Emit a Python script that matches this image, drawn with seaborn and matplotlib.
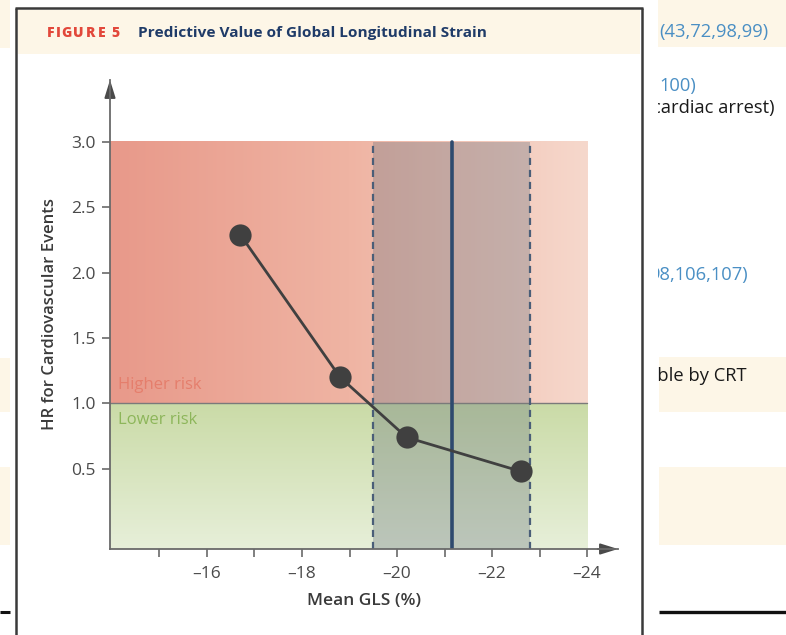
import numpy as np
import pandas as pd
import matplotlib
matplotlib.use("Agg")
import matplotlib.pyplot as plt
from matplotlib.patches import Rectangle
from matplotlib.lines import Line2D
from matplotlib.colors import LinearSegmentedColormap
from matplotlib.transforms import Bbox, TransformedBbox
from matplotlib.textpath import TextPath
from matplotlib.font_manager import FontProperties
import seaborn as sns

# --- data -------------------------------------------------------------
gls_mean = [-16.7, -18.8, -20.2, -22.6]          # mean GLS (%)
hazard_ratio = [2.29, 1.20, 0.74, 0.48]          # HR for cardiovascular events
normal_low, normal_high = -19.5, -22.8           # normal GLS range
normal_mean = -21.15                             # mean normal GLS
x_ticks = [-16, -18, -20, -22, -24]
x_minor = [-15, -17, -19, -21, -23]
y_ticks = [0.5, 1.0, 1.5, 2.0, 2.5, 3.0]
y_labels = ["0.5", "1.0", "1.5", "2.0", "2.5", "3.0"]

sns.set_theme(style="ticks")
plt.rcParams["font.family"] = ["Open Sans", "DejaVu Sans"]

W, H = 786, 635
fig = plt.figure(figsize=(W / 100, H / 100), dpi=100)
fig.patch.set_facecolor("white")


def fx(x):
    return x / W


def fy(y):
    return 1 - y / H


def page_rect(x0, y0, x1, y1, color):
    fig.add_artist(Rectangle((fx(x0), fy(y1)), fx(x1) - fx(x0), fy(y0) - fy(y1),
                             transform=fig.transFigure, facecolor=color,
                             edgecolor="none", zorder=0))


def page_line(xs, ys, color="#3a3a3a", lw=1.8):
    fig.add_artist(Line2D([fx(v) for v in xs], [fy(v) for v in ys],
                          transform=fig.transFigure, color=color, lw=lw,
                          solid_capstyle="butt", zorder=1))


cream = "#FDF6E7"
# surrounding page
page_rect(0, 0, 10, 48, cream)
page_rect(0, 358, 10, 412, cream)
page_rect(0, 467, 10, 545, cream)
page_line([0, 10], [612, 612], color="#111111", lw=2.2)
page_rect(658, 0, 786, 47, cream)
page_rect(659, 357, 786, 412, cream)
page_rect(659, 467, 786, 545, cream)
page_line([659, 786], [612, 612], color="#111111", lw=2.4)

# figure panel frame and header
page_rect(18, 10, 640, 54, cream)
page_line([16, 16], [8, 635])
page_line([15.3, 642.7], [8, 8])
page_line([642, 642], [8, 635])

# letter-spaced figure number: place each glyph at its natural advance plus tracking
label_font = FontProperties(family="Open Sans", weight="heavy", size=10)
label = "FIGURE 5"
tracking = 1.6
px_per_pt = 100 / 72
for i, ch in enumerate(label):
    if ch == " ":
        continue
    prefix = label[:i]
    adv = TextPath((0, 0), prefix, prop=label_font).get_extents().x1 * px_per_pt if prefix.strip() else 0
    if prefix.endswith(" "):
        adv += 4
    fig.text(fx(47 + adv + i * tracking), fy(33), ch, color="#E2483B",
             fontproperties=label_font, va="center", ha="left")

fig.text(fx(138), fy(33), "Predictive Value of Global Longitudinal Strain",
         color="#1F3B68", fontsize=11.1, fontweight="bold", va="center", ha="left")

# fragments of the neighbouring page text
clip = TransformedBbox(Bbox([[fx(658), 0], [1, 1]]), fig.transFigure)
blue = "#4A8FC4"
side_texts = [
    (659, 32, "(43,72,98,99)", blue),
    (659, 86, "100)", blue),
    (652, 108, "cardiac arrest)", "#1a1a1a"),
    (649, 275, "98,106,107)", blue),
    (647, 376, "able by CRT", "#1a1a1a"),
]
for x, y, s, c in side_texts:
    t = fig.text(fx(x), fy(y), s, color=c, fontsize=13.2, va="center", ha="left")
    t.set_clip_box(clip)
    t.set_clip_on(True)

# --- chart ------------------------------------------------------------
ax = fig.add_axes([fx(110), fy(549), fx(618) - fx(110), fy(80) - fy(549)])
ax.set_facecolor("none")
x_left, x_right = -13.96, -24.65
y_bottom, y_top = -0.114, 3.472

# higher risk zone: horizontal gradient
red_cmap = LinearSegmentedColormap.from_list("red", ["#E8998A", "#EFB4A3", "#F6D8CC"])
ax.imshow(np.linspace(0, 1, 256)[None, :], cmap=red_cmap, aspect="auto",
          extent=(x_left, -24, 1.0, 3.0), zorder=0, interpolation="bilinear")
# lower risk zone: vertical gradient
green_cmap = LinearSegmentedColormap.from_list("green", ["#E7EFD9", "#CADBA7"])
ax.imshow(np.linspace(0, 1, 256)[:, None], cmap=green_cmap, aspect="auto", origin="lower",
          extent=(x_left, -24, y_bottom, 1.0), zorder=0, interpolation="bilinear")
ax.set_xlim(x_left, x_right)
ax.set_ylim(y_bottom, y_top)

# normal range band
ax.fill_betweenx([y_bottom, 3.0], normal_low, normal_high, color="#5E6B79",
                 alpha=0.31, linewidth=0, zorder=1)
ax.plot([x_left, -24], [1.0, 1.0], color="#7a7a7a", lw=1.0, zorder=2)
for xv in (normal_low, normal_high):
    ax.plot([xv, xv], [y_bottom, 3.0], color="#4A5E78", lw=1.6,
            dashes=(3.2, 2.2), zorder=2)
ax.plot([normal_mean, normal_mean], [y_bottom, 3.0], color="#2E4A6E", lw=2.6, zorder=2)

ax.text(-14.12, 1.14, "Higher risk", color="#E57E6C", fontsize=12, va="center", ha="left", zorder=3)
ax.text(-14.12, 0.872, "Lower risk", color="#8DB65A", fontsize=12, va="center", ha="left", zorder=3)

df = pd.DataFrame({"gls": gls_mean, "hr": hazard_ratio})
sns.lineplot(data=df, x="gls", y="hr", ax=ax, color="#404040", lw=2.0, marker="o",
             markersize=16, markeredgewidth=0, zorder=4, sort=False)

# axes styling
for side in ("top", "right"):
    ax.spines[side].set_visible(False)
for side in ("left", "bottom"):
    ax.spines[side].set_color("#6a6a6a")
    ax.spines[side].set_linewidth(1.3)
    ax.spines[side].set_zorder(5)

ax.set_xticks(x_ticks)
ax.set_xticklabels([f"\u2013{abs(v)}" for v in x_ticks])
ax.set_xticks(x_minor, minor=True)
ax.set_yticks(y_ticks)
ax.set_yticklabels(y_labels)
ax.tick_params(axis="both", which="both", direction="out", length=6, width=1.2,
               color="#6a6a6a", labelcolor="#4a4a4a", labelsize=12.5)
ax.tick_params(axis="x", pad=6)
ax.tick_params(axis="y", pad=4)

ax.set_xlabel("Mean GLS (%)", fontsize=12.5, fontweight="semibold", color="#3a3a3a", labelpad=8)
ax.set_ylabel("HR for Cardiovascular Events", fontsize=12, fontweight="semibold",
              color="#3a3a3a", labelpad=10)

# axis arrows
ax.annotate("", xy=(0, 1.0), xytext=(0, 0.96), xycoords="axes fraction",
            arrowprops=dict(arrowstyle="-|>,head_length=0.9,head_width=0.28",
                            color="#4a4a4a", lw=1.3, shrinkA=0, shrinkB=0))
ax.annotate("", xy=(1.0, 0), xytext=(0.96, 0), xycoords="axes fraction",
            arrowprops=dict(arrowstyle="-|>,head_length=0.9,head_width=0.28",
                            color="#4a4a4a", lw=1.3, shrinkA=0, shrinkB=0))

fig.savefig("out.png", dpi=100)
